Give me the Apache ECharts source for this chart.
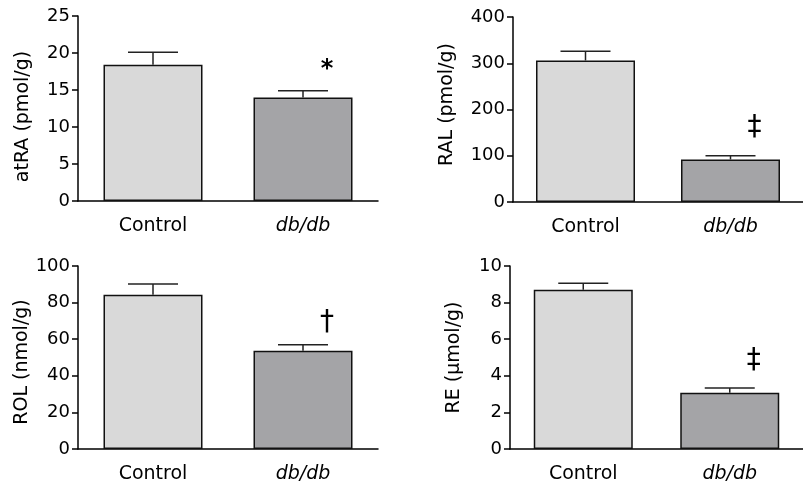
<!DOCTYPE html>
<html>
<head>
<meta charset="utf-8">
<script src="https://cdn.jsdelivr.net/npm/echarts@6/dist/echarts.min.js"></script>
<style>
  html, body { margin: 0; padding: 0; background: #fff; }
  #main { width: 803px; height: 484px; }
</style>
</head>
<body>
<div id="main"></div>
<script>
// groups
var categories = ['Control', 'db/db'];

// atRA (pmol/g)
var atraMean = [18.4, 14.0];
var atraUpper = [20.1, 14.9];
// RAL (pmol/g)
var ralMean = [306, 92];
var ralUpper = [326, 100];
// ROL (nmol/g)
var rolMean = [84.3, 53.7];
var rolUpper = [90.2, 57.0];
// RE (umol/g)
var reMean = [8.70, 3.07];
var reUpper = [9.06, 3.34];

// y axis ticks: [max, interval]
var atraTicks = [25, 5];
var ralTicks = [400, 100];
var rolTicks = [100, 20];
var reTicks = [10, 2];

// significance marks above db/db: [symbol, y value]
var atraMark = ['*', 17.8];
var ralMark = ['\u2021', 161];
var rolMark = ['\u2020', 69];
var reMark = ['\u2021', 4.8];

// name padding shifts the rotated title along the axis
var panels = [
  { name: 'atRA (pmol/g)', mean: atraMean, upper: atraUpper, ticks: atraTicks, mark: atraMark,
    grid: { left: 78, top: 16, width: 300, height: 185 }, nameGap: 45, namePad: [0, 16, 0, 0] },
  { name: 'RAL (pmol/g)', mean: ralMean, upper: ralUpper, ticks: ralTicks, mark: ralMark,
    grid: { left: 513, top: 17, width: 297, height: 185 }, nameGap: 56, namePad: [0, 0, 0, 10] },
  { name: 'ROL (nmol/g)', mean: rolMean, upper: rolUpper, ticks: rolTicks, mark: rolMark,
    grid: { left: 78, top: 266, width: 300, height: 184 }, nameGap: 44, namePad: [0, 9, 0, 0] },
  { name: 'RE (\u03bcmol/g)', mean: reMean, upper: reUpper, ticks: reTicks, mark: reMark,
    grid: { left: 510, top: 266, width: 302, height: 185 }, nameGap: 46, namePad: [0, 0, 0, 0] }
];

var barColors = ['#d9d9d9', '#a4a4a7'];
var font = 'DejaVu Sans';
var ink = '#000';

var chart = echarts.init(document.getElementById('main'), null, { renderer: 'canvas' });

var grids = [], xAxes = [], yAxes = [], series = [];

panels.forEach(function (p, i) {
  grids.push(Object.assign({ containLabel: false }, p.grid));
  xAxes.push({
    type: 'category',
    gridIndex: i,
    data: categories,
    axisLine: { lineStyle: { color: ink, width: 1.5 } },
    axisTick: { show: false },
    axisLabel: {
      margin: 16,
      fontFamily: font,
      fontSize: 19,
      color: ink,
      formatter: function (v) { return v === 'db/db' ? '{i|db/db}' : v; },
      rich: { i: { fontFamily: font, fontSize: 19, fontStyle: 'italic', color: ink } }
    }
  });
  yAxes.push({
    type: 'value',
    gridIndex: i,
    min: 0,
    max: p.ticks[0],
    interval: p.ticks[1],
    name: p.name,
    nameLocation: 'middle',
    nameGap: p.nameGap,
    nameTextStyle: { fontFamily: font, fontSize: 19, color: ink, padding: p.namePad },
    axisLine: { show: true, lineStyle: { color: ink, width: 1.5 } },
    axisTick: { show: true, length: 6, lineStyle: { color: ink, width: 1.5 } },
    splitLine: { show: false },
    axisLabel: { margin: 8, fontFamily: font, fontSize: 18, color: ink }
  });

  series.push({
    type: 'bar',
    xAxisIndex: i,
    yAxisIndex: i,
    barWidth: 99,
    data: p.mean.map(function (v, k) {
      return { value: v, itemStyle: { color: barColors[k] } };
    }),
    itemStyle: { borderColor: '#111', borderWidth: 1.5 },
    z: 2
  });

  // error bars (upper only)
  series.push({
    type: 'custom',
    xAxisIndex: i,
    yAxisIndex: i,
    z: 3,
    data: p.mean.map(function (v, k) { return [k, v, p.upper[k]]; }),
    renderItem: function (params, api) {
      var base = api.coord([api.value(0), api.value(1)]);
      var top = api.coord([api.value(0), api.value(2)]);
      var half = 25;
      var st = { stroke: '#222', lineWidth: 1.5 };
      return {
        type: 'group',
        children: [
          { type: 'line', shape: { x1: base[0], y1: base[1], x2: top[0], y2: top[1] }, style: st },
          { type: 'line', shape: { x1: top[0] - half, y1: top[1], x2: top[0] + half, y2: top[1] }, style: st }
        ]
      };
    }
  });

  // significance mark
  series.push({
    type: 'custom',
    xAxisIndex: i,
    yAxisIndex: i,
    silent: true,
    z: 4,
    data: [[1, p.mark[1]]],
    renderItem: function (params, api) {
      var c = api.coord([api.value(0), api.value(1)]);
      var isStar = p.mark[0] === '*';
      return {
        type: 'text',
        x: c[0] + 24,
        y: c[1],
        style: {
          text: p.mark[0],
          fill: ink,
          font: (isStar ? 'bold 24px ' : '28px ') + '"' + font + '"',
          align: 'center',
          verticalAlign: 'middle'
        }
      };
    }
  });
});

chart.setOption({
  backgroundColor: '#fff',
  animation: false,
  grid: grids,
  xAxis: xAxes,
  yAxis: yAxes,
  series: series
});
</script>
</body>
</html>
